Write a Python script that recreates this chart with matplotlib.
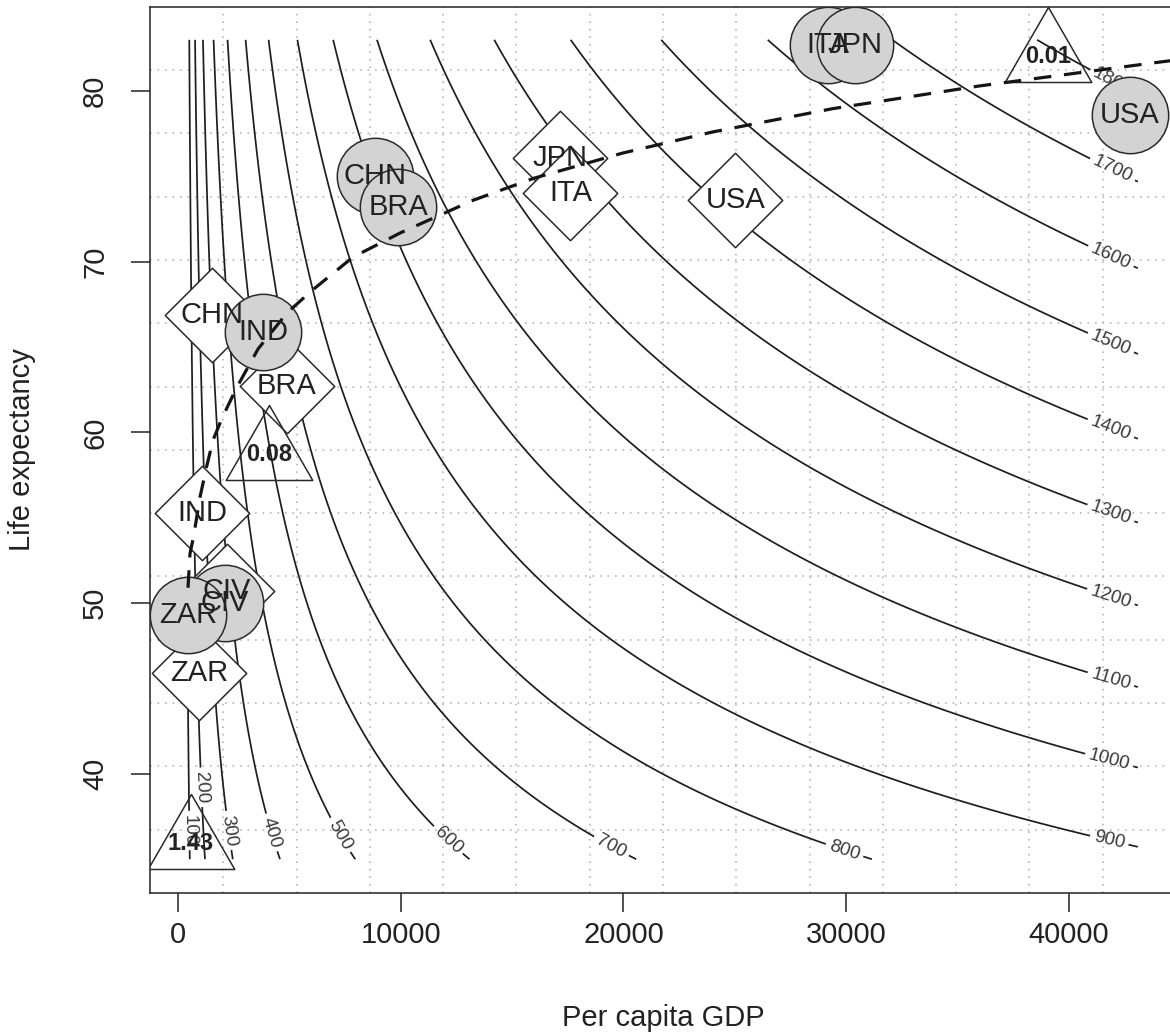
import numpy as np
import matplotlib
matplotlib.use("Agg")
import matplotlib.pyplot as plt
from matplotlib.path import Path

plt.rcParams['font.family'] = ['Liberation Sans', 'DejaVu Sans']

# latest period, grey circles
circ_codes = ["ITA", "JPN", "USA", "CHN", "BRA", "IND", "CIV", "ZAR"]
circ_gdp = [29200, 30400, 42750, 8850, 9880, 3820, 2100, 460]
circ_life = [82.7, 82.7, 78.6, 75.0, 73.2, 65.9, 50.0, 49.3]

# earlier period, white diamonds
dia_codes = ["JPN", "ITA", "USA", "CHN", "BRA", "IND", "CIV", "ZAR"]
dia_gdp = [17150, 17620, 25030, 1510, 4890, 1100, 2190, 950]
dia_life = [76.1, 74.0, 73.6, 66.9, 62.7, 55.3, 50.7, 45.9]

# open triangles with bold numbers
tri_text = ["1.43", "0.08", "0.01"]
tri_gdp = [580, 4090, 39050]
tri_life = [35.9, 58.7, 82.0]

# dashed curve
preston_gdp = [449, 539, 700, 988, 1250, 1572, 2000, 2649, 3600, 4894, 6000, 7858,
               10000, 13250, 16000, 19980, 24000, 29410, 36000, 44100, 46000]
preston_life = [50.9, 52.9, 53.9, 56.2, 57.8, 59.55, 60.9, 62.66, 64.9, 67.0, 68.3, 70.27,
                71.7, 73.6, 74.9, 76.37, 77.6, 78.97, 80.3, 81.7, 82.0]

levels = [100, 200, 300, 400, 500, 600, 700, 800, 900, 1000,
          1100, 1200, 1300, 1400, 1500, 1600, 1700, 1800]

# surface behind the iso-lines (fitted to where the printed lines sit)
SURF_A, SURF_B, SURF_P, SURF_C = 7.39, 0.8624, 0.2, 2.875
GDP_LO, GDP_HI, LIFE_LO, LIFE_HI = 450, 43100, 35, 83

W, H = 1170, 1036
fig = plt.figure(figsize=(W / 100, H / 100), dpi=100)
ax = fig.add_axes([150 / W, 1 - 893 / H, (1176 - 150) / W, (893 - 6.7) / H])
ax.set_xlim(-1257, 44814)
ax.set_ylim(33.02, 84.94)

# dotted grid, 14 cells each way
for gx in np.linspace(-1257, 44814, 15)[1:-1]:
    ax.axvline(gx, color='#b8b8b8', lw=1.2, ls=(0, (1, 3.5)), zorder=1)
for gy in np.linspace(33.02, 84.94, 15)[1:-1]:
    ax.axhline(gy, color='#b8b8b8', lw=1.2, ls=(0, (1, 3.5)), zorder=1)

gg, ll = np.meshgrid(np.linspace(GDP_LO, GDP_HI, 600), np.linspace(LIFE_LO, LIFE_HI, 400))
zz = SURF_A * ll ** SURF_B * (gg ** SURF_P - SURF_C)
cs = ax.contour(gg, ll, zz, levels=levels, colors='#1e1e1e', linewidths=1.25, zorder=2)


def label_spot(seg, back_px):
    # walk back from the lower/right end of a line by back_px pixels
    if seg[0, 1] > seg[-1, 1]:
        seg = seg[::-1]
    pts = ax.transData.transform(seg)
    d = np.concatenate([[0], np.cumsum(np.hypot(*np.diff(pts, axis=0).T))])
    i = min(np.searchsorted(d, back_px), len(seg) - 1)
    return tuple(seg[i])


spots = []
for lev, path in zip(cs.levels, cs.get_paths()):
    v = path.vertices
    if len(v) == 0:
        continue
    if path.codes is None:
        segs = [v]
    else:
        starts = np.where(path.codes == Path.MOVETO)[0]
        segs = np.split(v, starts[1:])
    seg = max(segs, key=len)
    spots.append(label_spot(seg, 70 if lev == 200 else 28))

txts = ax.clabel(cs, manual=spots, inline=True, inline_spacing=4, fmt='%d',
                 fontsize=13.5, colors='#3a3a3a')
for t in txts:
    t.set_zorder(2.5)

diamond = Path([(0, 1), (1, 0), (0, -1), (-1, 0), (0, 1)], closed=True)
triangle = Path([(0, 1), (-0.866, -0.5), (0.866, -0.5), (0, 1)], closed=True)

ax.plot(dia_gdp, dia_life, ls='none', marker=diamond, ms=68, mfc='white',
        mec='#2a2a2a', mew=1.1, zorder=3)
ax.plot(circ_gdp, circ_life, ls='none', marker='o', ms=55, mfc='#d3d3d3',
        mec='#2a2a2a', mew=1.1, zorder=4)
ax.plot(tri_gdp, tri_life, ls='none', marker=triangle, ms=72, mfc='none',
        mec='#2a2a2a', mew=1.1, zorder=5)
ax.plot(preston_gdp, preston_life, color='#151515', lw=2.3, dashes=(5.5, 4), zorder=6)

for c, x, y in zip(dia_codes, dia_gdp, dia_life):
    ax.text(x, y, c, ha='center', va='center', fontsize=21, color='#222222', zorder=7)
for c, x, y in zip(circ_codes, circ_gdp, circ_life):
    ax.text(x, y, c, ha='center', va='center', fontsize=21, color='#222222', zorder=7)
for c, x, y in zip(tri_text, tri_gdp, tri_life):
    ax.text(x, y, c, ha='center', va='center', fontsize=17, fontweight='bold',
            color='#222222', zorder=7)

ax.set_xticks([0, 10000, 20000, 30000, 40000])
ax.set_xticklabels(['0', '10000', '20000', '30000', '40000'])
ax.set_yticks([40, 50, 60, 70, 80])
ax.set_yticklabels(['40', '50', '60', '70', '80'], rotation=90, va='center')
ax.tick_params(axis='both', length=13.5, width=1.1, labelsize=21, colors='#222222')
ax.tick_params(axis='x', pad=7)
ax.tick_params(axis='y', pad=16)
for s in ax.spines.values():
    s.set_linewidth(1.1)
    s.set_color('#222222')

ax.set_xlabel('Per capita GDP', fontsize=21, color='#222222')
ax.xaxis.set_label_coords(0.5, -0.141)
ax.xaxis.label.set_va('center')
ax.set_ylabel('Life expectancy', fontsize=21, color='#222222')
ax.yaxis.set_label_coords(-0.1248, 0.5)
ax.yaxis.label.set_va('center')

fig.savefig('out.png', dpi=100)
